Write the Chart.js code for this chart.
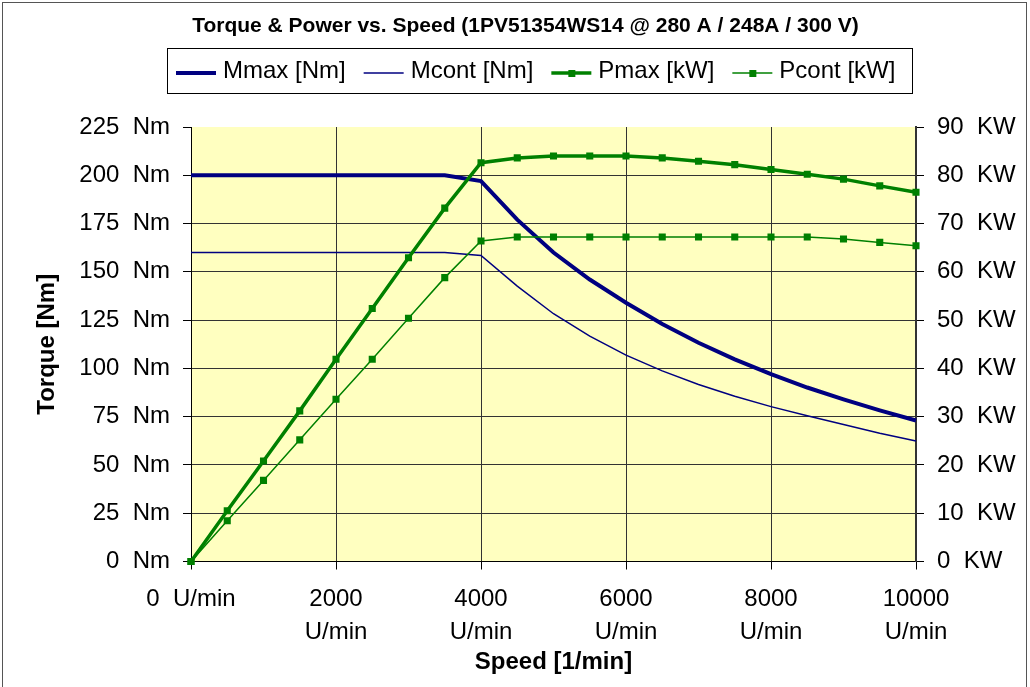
<!DOCTYPE html>
<html>
<head>
<meta charset="utf-8">
<script src="https://cdn.jsdelivr.net/npm/chart.js@4.4.1/dist/chart.umd.min.js"></script>
<style>
  html, body { margin: 0; padding: 0; background: #fff; }
  #wrap { width: 1030px; height: 687px; }
</style>
</head>
<body>
<div id="wrap"><canvas id="chart" width="1030" height="687"></canvas></div>
<script>
// ---- data
const speeds = [0, 500, 1000, 1500, 2000, 2500, 3000, 3500, 4000, 4500, 5000,
  5500, 6000, 6500, 7000, 7500, 8000, 8500, 9000, 9500, 10000];
const mMax = [200, 200, 200, 200, 200, 200, 200, 200, 197, 177, 160,
  146, 134, 123, 113.3, 104.7, 97, 90.1, 84, 78.3, 73];
const mCont = [160, 160, 160, 160, 160, 160, 160, 160, 158.5, 142.6, 128.3,
  116.7, 106.9, 98.7, 91.7, 85.6, 80.2, 75.5, 70.9, 66.4, 62.4];
const pMax = [0, 10.5, 20.8, 31.2, 41.9, 52.4, 62.9, 73.2, 82.6, 83.6, 84,
  84, 84, 83.6, 82.9, 82.2, 81.2, 80.2, 79.2, 77.8, 76.5];
const pCont = [0, 8.45, 16.8, 25.2, 33.6, 41.9, 50.4, 58.8, 66.4, 67.2, 67.2,
  67.2, 67.2, 67.2, 67.2, 67.2, 67.2, 67.2, 66.8, 66.1, 65.4];
const seriesNames = ['Mmax [Nm]', 'Mcont [Nm]', 'Pmax [kW]', 'Pcont [kW]'];
const chartTitle = 'Torque & Power vs. Speed (1PV51354WS14 @ 280 A / 248A / 300 V)';
const xTitle = 'Speed [1/min]';
const yTitle = 'Torque [Nm]';

const FONT = "'Liberation Sans', Arial, sans-serif";
const NAVY = '#000080';
const GREEN = '#008000';

const pts = arr => arr.map((v, i) => ({ x: speeds[i], y: v }));

// yellow plot area + white page
const backdrop = {
  id: 'backdrop',
  beforeDraw(chart) {
    const { ctx, chartArea: a } = chart;
    ctx.save();
    ctx.fillStyle = '#fff';
    ctx.fillRect(0, 0, chart.width, chart.height);
    ctx.fillStyle = '#FFFFC0';
    ctx.fillRect(a.left, a.top, a.right - a.left, a.bottom - a.top);
    ctx.restore();
  }
};

// outer frame, title and boxed legend
const decor = {
  id: 'decor',
  afterDraw(chart) {
    const ctx = chart.ctx;
    ctx.save();
    ctx.strokeStyle = '#555';
    ctx.lineWidth = 1;
    ctx.strokeRect(2.5, 2.5, 1024, 700);

    ctx.fillStyle = '#000';
    ctx.font = 'bold 21px ' + FONT;
    ctx.textAlign = 'center';
    ctx.textBaseline = 'alphabetic';
    ctx.fillText(chartTitle, 525.5, 32);

    ctx.strokeStyle = '#000';
    ctx.strokeRect(167.5, 48.5, 745, 45);

    ctx.font = '24px ' + FONT;
    ctx.textAlign = 'left';
    let x = 176;
    chart.data.datasets.forEach(ds => {
      ctx.strokeStyle = ds.borderColor;
      ctx.lineWidth = ds.legendWidth;
      ctx.beginPath();
      ctx.moveTo(x, 73);
      ctx.lineTo(x + 40, 73);
      ctx.stroke();
      if (ds.pointRadius > 0) {
        ctx.fillStyle = ds.pointBackgroundColor;
        ctx.fillRect(x + 17, 70, 7, 7);
      }
      ctx.fillStyle = '#000';
      ctx.fillText(ds.label, x + 47, 78);
      x += 47 + ctx.measureText(ds.label).width + 18;
    });
    ctx.restore();
  }
};

const tickFont = { family: FONT, size: 24 };
const titleFont = { family: FONT, size: 24, weight: 'bold', lineHeight: 1.2 };

new Chart(document.getElementById('chart'), {
  type: 'line',
  data: {
    datasets: [
      { label: seriesNames[0], data: pts(mMax), yAxisID: 'y', borderColor: NAVY, borderWidth: 4,
        legendWidth: 4, pointRadius: 0, order: 4, clip: 8 },
      { label: seriesNames[1], data: pts(mCont), yAxisID: 'y', borderColor: NAVY, borderWidth: 1.5,
        legendWidth: 1.5, pointRadius: 0, order: 3, clip: 8 },
      { label: seriesNames[2], data: pts(pMax), yAxisID: 'y1', borderColor: GREEN, borderWidth: 3.5,
        legendWidth: 3.5, pointStyle: 'rect', pointRadius: 5, pointBorderWidth: 0,
        pointBackgroundColor: GREEN, order: 2, clip: 8 },
      { label: seriesNames[3], data: pts(pCont), yAxisID: 'y1', borderColor: GREEN, borderWidth: 1.5,
        legendWidth: 1.5, pointStyle: 'rect', pointRadius: 5, pointBorderWidth: 0,
        pointBackgroundColor: GREEN, order: 1, clip: 8 }
    ]
  },
  options: {
    responsive: false,
    animation: false,
    devicePixelRatio: 1,
    layout: { padding: { top: 127, left: 0, right: 0, bottom: 0 } },
    plugins: { legend: { display: false }, title: { display: false }, tooltip: { enabled: false } },
    elements: { line: { tension: 0 } },
    scales: {
      x: {
        type: 'linear', min: 0, max: 10000,
        afterFit: s => { s.height = 125.5; },
        ticks: {
          stepSize: 2000, padding: 13, color: '#000', maxRotation: 0, autoSkip: false,
          font: Object.assign({ lineHeight: 1.375 }, tickFont),
          callback: v => v === 0 ? '0  U/min' : [String(v), 'U/min']
        },
        grid: { color: '#333', tickColor: '#000', tickLength: 8 },
        border: { color: '#000', width: 1 },
        title: { display: true, text: xTitle, color: '#000', font: titleFont, padding: { top: 0, bottom: 10 } }
      },
      y: {
        position: 'left', min: 0, max: 225,
        afterFit: s => { s.width = 191; },
        ticks: { stepSize: 25, padding: 13, color: '#000', font: tickFont, callback: v => v + '  Nm' },
        grid: {
          color: c => c.tick && c.tick.value === 225 ? 'rgba(0,0,0,0)' : '#333',
          tickColor: '#000', tickLength: 8
        },
        border: { color: '#000', width: 1 },
        title: { display: true, text: yTitle, color: '#000', font: titleFont, padding: { top: 33, bottom: 0 } }
      },
      y1: {
        position: 'right', min: 0, max: 90,
        afterFit: s => { s.width = 114; },
        ticks: { stepSize: 10, padding: 13, color: '#000', font: tickFont, callback: v => v + '  KW' },
        grid: { drawOnChartArea: false, tickColor: '#000', tickLength: 8 },
        border: { color: '#333', width: 2 }
      }
    }
  },
  plugins: [backdrop, decor]
});
</script>
</body>
</html>
